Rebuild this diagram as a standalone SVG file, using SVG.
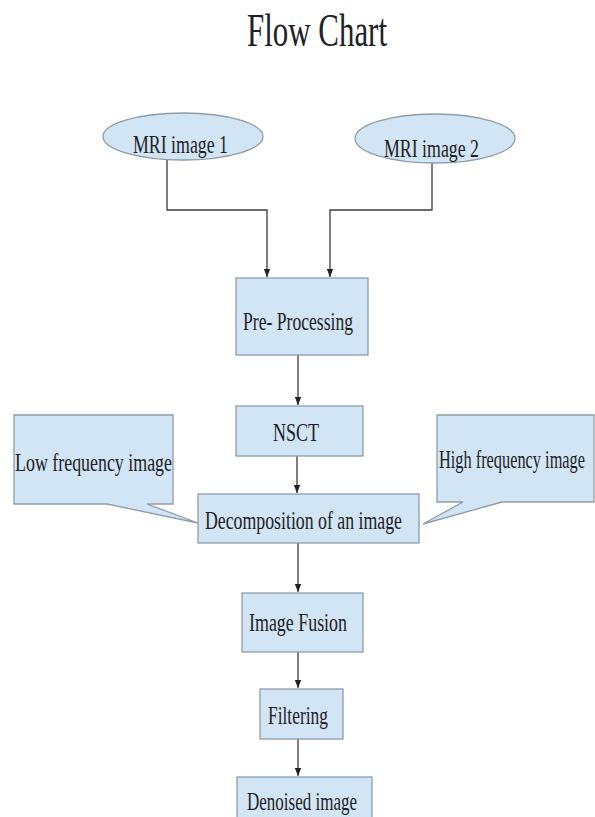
<svg xmlns="http://www.w3.org/2000/svg" width="595" height="817" viewBox="0 0 595 817">
<style>
.n{fill:#d2e5f4;stroke:#8e9caa;stroke-width:1.3}
.t{font-family:"Liberation Serif","Times New Roman",serif;font-size:26px;fill:#1e2226}
.c{fill:none;stroke:#3a3a3a;stroke-width:1.3}
</style>
<defs>
<marker id="ah" viewBox="0 0 8 8" refX="8" refY="4" markerWidth="8" markerHeight="8" markerUnits="userSpaceOnUse" orient="auto">
<path d="M0,0.8 L8,4 L0,7.2 Z" fill="#222"/>
</marker>
</defs>
<rect width="595" height="817" fill="#fff"/>
<text class="t" x="247" y="46" style="font-size:46px" textLength="140" lengthAdjust="spacingAndGlyphs">Flow Chart</text>
<g id="connectors">
<path class="c" d="M167,160 V210 H267 V277" marker-end="url(#ah)"/>
<path class="c" d="M432,163 V210 H330 V277" marker-end="url(#ah)"/>
<path class="c" d="M298,355 V405" marker-end="url(#ah)"/>
<path class="c" d="M297,456 V493" marker-end="url(#ah)"/>
<path class="c" d="M298,543 V592" marker-end="url(#ah)"/>
<path class="c" d="M298,652 V688" marker-end="url(#ah)"/>
<path class="c" d="M298,739 V776" marker-end="url(#ah)"/>
</g>
<g id="mri1">
<ellipse class="n" cx="183" cy="136.5" rx="80" ry="23.5"/>
<text class="t" x="133" y="153" textLength="95" lengthAdjust="spacingAndGlyphs">MRI image 1</text>
</g>
<g id="mri2">
<ellipse class="n" cx="435" cy="138.5" rx="80" ry="24.5"/>
<text class="t" x="384" y="157" textLength="95" lengthAdjust="spacingAndGlyphs">MRI image 2</text>
</g>
<g id="preprocessing">
<rect class="n" x="236" y="278" width="132" height="77"/>
<text class="t" x="243" y="330" textLength="110" lengthAdjust="spacingAndGlyphs">Pre- Processing</text>
</g>
<g id="nsct">
<rect class="n" x="236" y="406" width="127" height="50"/>
<text class="t" x="273" y="441" textLength="46" lengthAdjust="spacingAndGlyphs">NSCT</text>
</g>
<g id="lowfreq">
<path class="n" d="M14,415 H173 V504 H147 L198,523 L107,504 H14 Z"/>
<text class="t" x="15" y="471" textLength="157" lengthAdjust="spacingAndGlyphs">Low frequency image</text>
</g>
<g id="highfreq">
<path class="n" d="M437,415 H594 V502 H502 L423,524 L463,502 H437 Z"/>
<text class="t" x="0" y="0" transform="translate(439,468) scale(1,1.68)" style="font-size:15.5px" textLength="146" lengthAdjust="spacingAndGlyphs">High frequency image</text>
</g>
<g id="decomposition">
<rect class="n" x="198" y="494" width="221" height="49"/>
<text class="t" x="205" y="529" textLength="197" lengthAdjust="spacingAndGlyphs">Decomposition of an image</text>
</g>
<g id="fusion">
<rect class="n" x="242" y="593" width="121" height="59"/>
<text class="t" x="249" y="631" textLength="98" lengthAdjust="spacingAndGlyphs">Image Fusion</text>
</g>
<g id="filtering">
<rect class="n" x="260" y="689" width="83" height="50"/>
<text class="t" x="268" y="724" textLength="60" lengthAdjust="spacingAndGlyphs">Filtering</text>
</g>
<g id="denoised">
<rect class="n" x="237" y="777" width="135" height="55"/>
<text class="t" x="247" y="810" textLength="110" lengthAdjust="spacingAndGlyphs">Denoised image</text>
</g>
</svg>
